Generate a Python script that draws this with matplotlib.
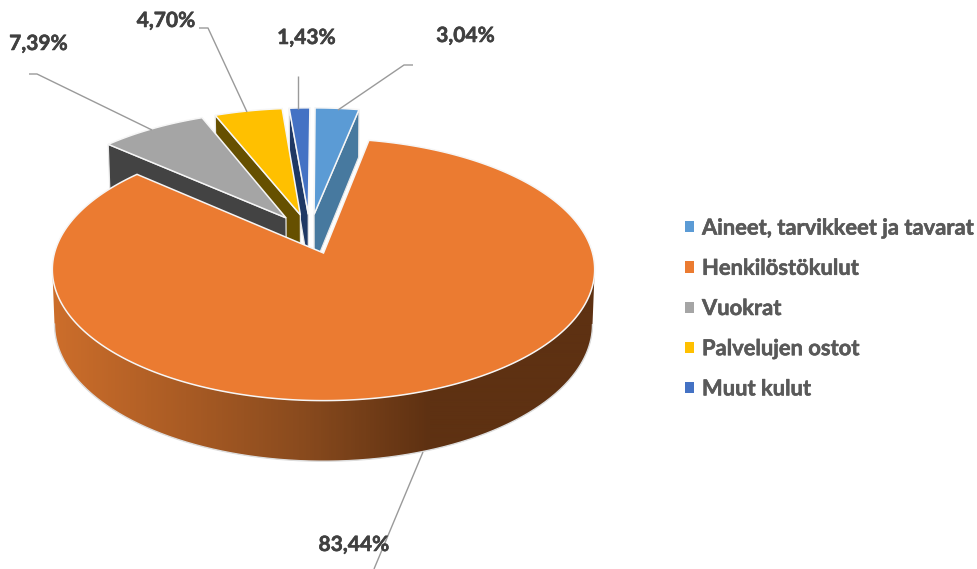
import numpy as np
import matplotlib
matplotlib.use("Agg")
import matplotlib.pyplot as plt
from matplotlib.patches import Polygon, Patch
from matplotlib.colors import LinearSegmentedColormap
import matplotlib.patheffects as pe

categories = ["Aineet, tarvikkeet ja tavarat", "Henkilöstökulut", "Vuokrat", "Palvelujen ostot", "Muut kulut"]
values = [3.04, 83.44, 7.39, 4.70, 1.43]
labels = ["3,04%", "83,44%", "7,39%", "4,70%", "1,43%"]
top_colors = ["#5B9BD5", "#EB7B31", "#A5A5A5", "#FFC000", "#4472C4"]
wall_colors = ["#47799F", "#7A4018", "#434343", "#665000", "#1F3864"]

# Projection of the tilted pie onto pixels
CX, CY = 323.5, 253.0
RX, RY, K, DEPTH, SHRINK, EXPLODE = 269.0, 129.0, 0.126, 54.0, 0.992, 0.16

plt.rcParams["font.family"] = ["Lato", "DejaVu Sans"]
plt.rcParams["font.weight"] = "bold"

fig = plt.figure(figsize=(9.78, 5.69), dpi=100)
ax = fig.add_axes([0, 0, 1, 1])
ax.set_xlim(0, 978)
ax.set_ylim(569, 0)
ax.axis("off")

edges = np.radians(np.concatenate([[0], np.cumsum(values)]) * 3.6)
mids = (edges[:-1] + edges[1:]) / 2
ref_mid = mids[1]


def project(a, b, low=False):
    w = 1 + K * b
    x = RX * a / w
    y = -RY * b / w
    if low:
        x, y = x * SHRINK, y * SHRINK + DEPTH / w
    return CX + x, CY + y


def offset(i):
    return (EXPLODE * (np.sin(mids[i]) - np.sin(ref_mid)),
            EXPLODE * (np.cos(mids[i]) - np.cos(ref_mid)))


def rim(i, low=False, n=None):
    n = n or max(4, int((edges[i + 1] - edges[i]) * 120))
    t = np.linspace(edges[i], edges[i + 1], n)
    oa, ob = offset(i)
    return project(oa + np.sin(t), ob + np.cos(t), low)


def draw_wall(i, theta, z):
    oa, ob = offset(i)
    a, b = oa + np.sin(theta), ob + np.cos(theta)
    x1, y1 = project(oa, ob)
    x2, y2 = project(a, b)
    x3, y3 = project(a, b, True)
    x4, y4 = project(oa, ob, True)
    ax.add_patch(Polygon([(x1, y1), (x2, y2), (x3, y3), (x4, y4)], closed=True,
                         fc=wall_colors[i], ec="#E8E8E8", lw=0.9, zorder=z))


def draw_top(i, z):
    oa, ob = offset(i)
    x, y = rim(i)
    tx, ty = project(oa, ob)
    pts = np.column_stack([np.r_[tx, x], np.r_[ty, y]])
    ax.add_patch(Polygon(pts, closed=True, fc=top_colors[i], ec="#F6F6F6", lw=1.1, zorder=z))


# Back slices: painter's order, the slice nearest to the viewer last
draw_wall(0, edges[1], 2)
draw_top(0, 3)
draw_wall(4, edges[4], 4)
draw_top(4, 5)
draw_wall(3, edges[3], 6)
draw_top(3, 7)
draw_wall(2, edges[2], 8)
draw_top(2, 9)

# Large slice: outer side with horizontal shading, front half of the rim only
cmap = LinearSegmentedColormap.from_list(
    "side", [(0.0, "#CD6E2B"), (250 / 550, "#8A4B1E"), (380 / 550, "#5E3112"), (1.0, "#5E3112")])
ux, uy = rim(1, n=800)
lx, ly = rim(1, low=True, n=800)
i0, i1 = int(np.argmax(ux)), int(np.argmin(ux))
ux, uy, lx, ly = ux[i0:i1 + 1], uy[i0:i1 + 1], lx[i0:i1 + 1], ly[i0:i1 + 1]
side = Polygon(np.vstack([np.column_stack([ux, uy]), np.column_stack([lx, ly])[::-1]]),
               closed=True, transform=ax.transData, fc="none", ec="none")
ax.add_patch(side)
im = ax.imshow(np.linspace(0, 1, 550)[None, :], cmap=cmap, extent=(50, 600, 480, 200),
               aspect="auto", zorder=11, interpolation="bilinear")
im.set_clip_path(side)
ax.set_xlim(0, 978)
ax.set_ylim(569, 0)
ax.plot(lx, ly, color="#DDDDDD", lw=1.0, zorder=11.5)
draw_top(1, 12)

# Leader lines
leaders = {
    0: [(413, 65), (404, 65), (338, 110)],
    1: [(423, 452), (374, 569)],
    2: [(29, 74), (37, 74), (152, 130)],
    3: [(199, 28), (208, 28), (247, 112)],
    4: [(298, 76), (298, 109)],
}
for pts in leaders.values():
    xs, ys = zip(*pts)
    ax.plot(xs, ys, color="#9A9A9A", lw=1.0, zorder=13, solid_capstyle="butt")

# Data labels
label_pos = [(465.5, 36), (354, 545), (38.5, 44), (166, 21), (306.5, 38)]
for txt, (x, y) in zip(labels, label_pos):
    t = ax.text(x, y, txt, ha="center", va="center", fontsize=15.1, fontweight="bold",
                color="#404040", zorder=14)
    t.set_path_effects([pe.withStroke(linewidth=0.4, foreground="#404040")])

# Legend
handles = [Patch(fc=c, ec="none") for c in top_colors]
leg = ax.legend(handles, categories, loc="center left", bbox_to_anchor=(674 / 978, 1 - 308.5 / 569),
                frameon=False, fontsize=15.8, labelcolor="#595959", handlelength=0.41, handleheight=0.41,
                handletextpad=0.365, labelspacing=0.875, borderpad=0, borderaxespad=0.5)
for t in leg.get_texts():
    t.set_path_effects([pe.withStroke(linewidth=0.4, foreground="#595959")])

fig.savefig("out.png", dpi=100)
